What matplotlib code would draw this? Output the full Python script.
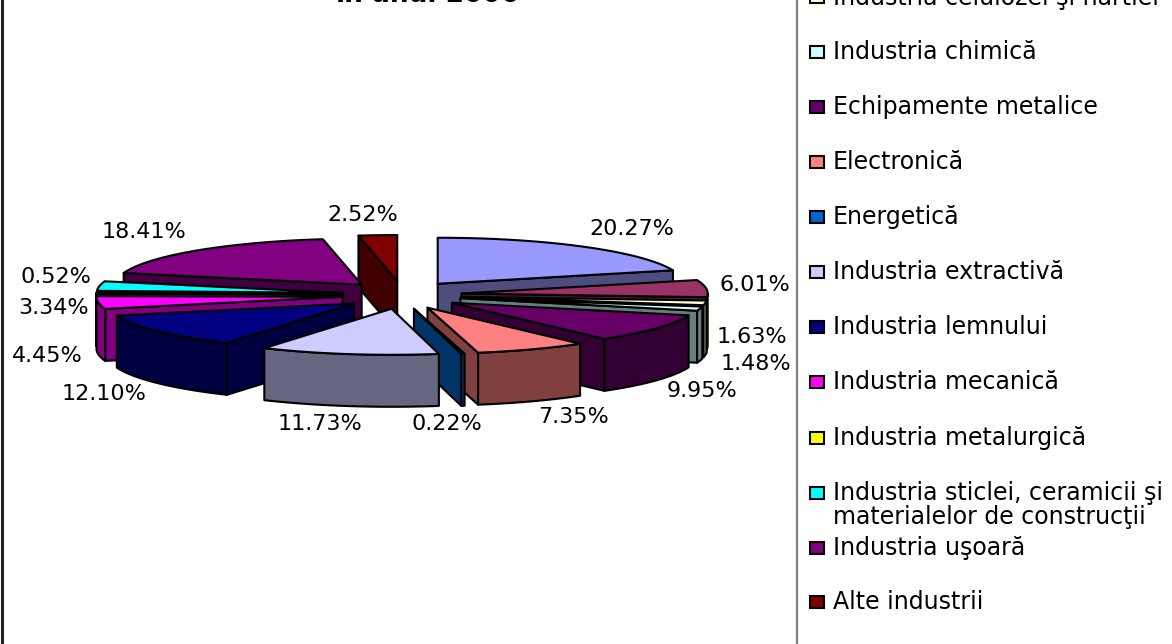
import numpy as np
import matplotlib
matplotlib.use('Agg')
import matplotlib.pyplot as plt
from matplotlib.patches import Polygon, Rectangle
from matplotlib.colors import to_rgb

plt.rcParams['font.family'] = ['DejaVu Sans']

# slices clockwise from 12 o'clock
values = [20.27, 6.01, 1.63, 1.48, 9.95, 7.35, 0.22, 11.73, 12.10, 4.45, 0.52, 3.34, 18.41, 2.52]
colors = ['#9999FF', '#993366', '#FFFFCC', '#CCFFFF', '#660066', '#FF8080', '#0066CC',
          '#CCCCFF', '#000080', '#FF00FF', '#FFFF00', '#00FFFF', '#800080', '#800000']
label_pos = [(632, 229), (755, 285), (752, 337), (756, 364), (702, 391), (574, 417), (447, 424),
             (320, 424), (104, 394), (47, 356), (56, 277), (54, 308), (144, 232), (363, 215)]

# the first two legend rows are cut off by the top of the picture
legend_names = ['Industria celulozei şi hârtiei', 'Industria chimică', 'Echipamente metalice',
                'Electronică', 'Energetică', 'Industria extractivă', 'Industria lemnului',
                'Industria mecanică', 'Industria metalurgică',
                'Industria sticlei, ceramicii şi\nmaterialelor de construcţii',
                'Industria uşoară', 'Alte industrii']
legend_y = [-3, 52, 107, 162, 217, 272, 327, 382, 438, 493, 548, 602]

CX, CY = 402, 295      # pie centre in pixels
RX, RY = 246, 46       # ellipse of the top face
EX, EY = 60, 14        # explosion
DEPTH = 52

fig = plt.figure(figsize=(11.72, 6.44), dpi=100)
ax = fig.add_axes([0, 0, 1, 1])
ax.set_xlim(0, 1172)
ax.set_ylim(644, 0)
ax.axis('off')


def rim(ax0, ay0, a, b):
    t = np.radians(np.linspace(a, b, max(int(abs(b - a)) + 2, 2)))
    return np.column_stack([ax0 + RX * np.sin(t), ay0 - RY * np.cos(t)])


def shade(col):
    return tuple(c * 0.5 for c in to_rgb(col))


def draw_slice(a, b, col):
    mid = np.radians((a + b) / 2)
    x0 = CX + EX * np.sin(mid)
    y0 = CY - EY * np.cos(mid)
    style = dict(edgecolor='black', linewidth=1.5, joinstyle='round')
    down = np.array([0, DEPTH])
    apex = np.array([x0, y0])
    # radial faces
    if np.sin(np.radians(a)) < -1e-6:
        p = rim(x0, y0, a, a)[0]
        ax.add_patch(Polygon([apex, p, p + down, apex + down], facecolor=shade(col), **style))
    if np.sin(np.radians(b)) > 1e-6:
        p = rim(x0, y0, b, b)[0]
        ax.add_patch(Polygon([apex, p, p + down, apex + down], facecolor=shade(col), **style))
    # outer wall, front half only
    lo, hi = max(a, 90), min(b, 270)
    if hi > lo:
        arc = rim(x0, y0, lo, hi)
        ax.add_patch(Polygon(np.vstack([arc, arc[::-1] + down]), facecolor=shade(col), **style))
    # top face
    ax.add_patch(Polygon(np.vstack([apex, rim(x0, y0, a, b)]), facecolor=col, **style))


angles = np.cumsum([0] + values) / sum(values) * 360
mids = (angles[:-1] + angles[1:]) / 2
# back to front
for i in np.argsort(-np.cos(np.radians(mids))):
    draw_slice(angles[i], angles[i + 1], colors[i])

for v, (x, y) in zip(values, label_pos):
    ax.text(x, y, f'{v:.2f}%', ha='center', va='center', fontsize=16, color='black')

ax.text(427, 2, 'în anul 2006', ha='center', va='baseline', fontsize=19, fontweight='bold')

# frame
ax.plot([1.5, 1.5], [0, 644], color='#222222', lw=2.2)
ax.plot([797, 797], [0, 644], color='#808080', lw=1.6)

# legend
for name, y, col in zip(legend_names, legend_y, colors[2:]):
    ax.add_patch(Rectangle((810, y - 6), 14, 12, facecolor=col, edgecolor='black', linewidth=1.5))
    if '\n' in name:
        ax.text(833, y + 12, name, ha='left', va='center', fontsize=17, linespacing=0.98)
    else:
        ax.text(833, y, name, ha='left', va='center', fontsize=17)

fig.savefig('out.png', dpi=100)
